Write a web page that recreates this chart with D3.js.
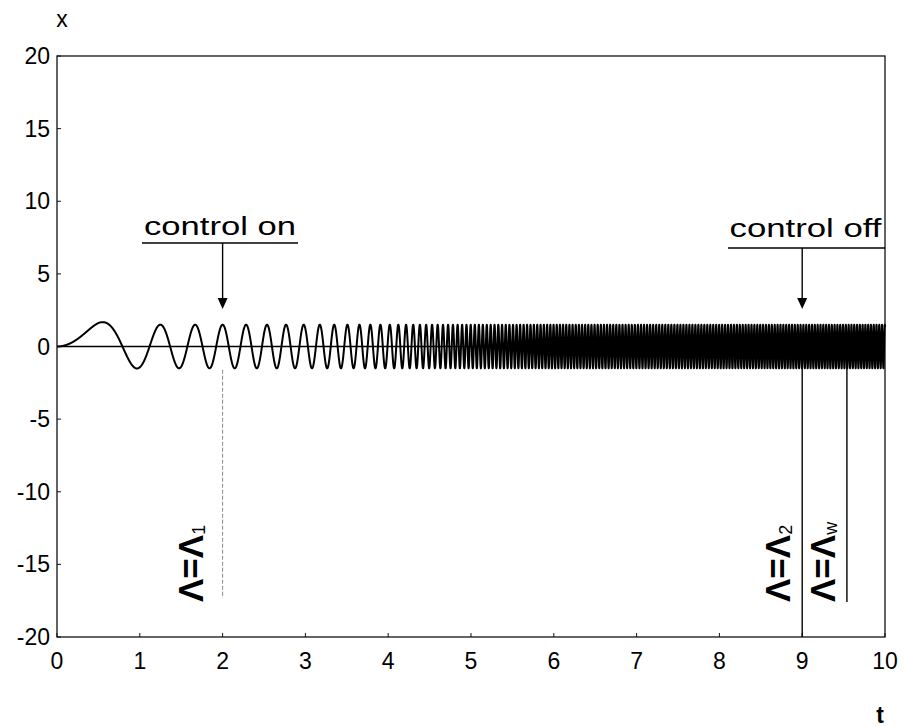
<!DOCTYPE html>
<html>
<head>
<meta charset="utf-8">
<script src="https://cdn.jsdelivr.net/npm/d3@7"></script>
<style>
  body { margin: 0; background: #fff; }
  text { font-family: "Liberation Sans", Arial, sans-serif; fill: #000; }
</style>
</head>
<body>
<svg id="chart" width="904" height="727"></svg>
<script>
// axis ticks
const xTicks = [0, 1, 2, 3, 4, 5, 6, 7, 8, 9, 10];
const yTicks = [-20, -15, -10, -5, 0, 5, 10, 15, 20];

// oscillation rate of x (cycles per unit t) along the record
const rateT = [0, 1, 2, 3, 3.5, 4, 4.5, 5, 6, 8, 10];
const rateV = [0, 1.6, 3.3, 4.9, 6.5, 9, 14, 20, 26, 28, 30];

// amplitude envelope of x
const ampT = [0, 0.5, 1, 2, 3, 5, 10];
const ampV = [1.7, 1.7, 1.5, 1.5, 1.5, 1.5, 1.5];

// control switching events
const eventT = [2, 9];
const eventLabel = ["control on", "control off"];

// parameter markers
const markerT = [2, 9, 9.54];
const markerSub = ["1", "2", "w"];

const svg = d3.select("#chart");
const x = d3.scaleLinear().domain([0, 10]).range([57, 885]);
const y = d3.scaleLinear().domain([-20, 20]).range([637, 56]);

const rate = d3.scaleLinear().domain(rateT).range(rateV);
const amp = d3.scaleLinear().domain(ampT).range(ampV);

// build the trace by accumulating phase from the rate readings
const dt = 0.001;
const trace = [];
let phase = 0;
for (let i = 0; i <= 10000; i++) {
  const t = i * dt;
  trace.push([t, amp(t) * Math.sin(phase)]);
  phase += 2 * Math.PI * rate(t + dt / 2) * dt;
}

// frame
svg.append("rect")
  .attr("x", x(0)).attr("y", y(20))
  .attr("width", x(10) - x(0)).attr("height", y(-20) - y(20))
  .attr("fill", "none").attr("stroke", "#111").attr("stroke-width", 1.3);

// ticks (inward)
svg.append("g").selectAll("line").data(xTicks).join("line")
  .attr("x1", d => x(d)).attr("x2", d => x(d))
  .attr("y1", y(-20)).attr("y2", y(-20) - 4)
  .attr("stroke", "#111").attr("stroke-width", 1);
svg.append("g").selectAll("line").data(yTicks).join("line")
  .attr("x1", x(0)).attr("x2", x(0) + 4)
  .attr("y1", d => y(d)).attr("y2", d => y(d))
  .attr("stroke", "#111").attr("stroke-width", 1);

// tick labels
svg.append("g").selectAll("text").data(xTicks).join("text")
  .attr("x", d => x(d)).attr("y", y(-20) + 32)
  .attr("text-anchor", "middle").attr("font-size", 23)
  .text(d => d);
svg.append("g").selectAll("text").data(yTicks).join("text")
  .attr("x", x(0) - 7).attr("y", d => y(d) + 8)
  .attr("text-anchor", "end").attr("font-size", 23)
  .text(d => d);

// axis names
svg.append("text").attr("x", 62).attr("y", 27)
  .attr("text-anchor", "middle").attr("font-size", 23).text("x");
svg.append("text").attr("x", 880).attr("y", 723)
  .attr("text-anchor", "middle").attr("font-size", 23).attr("font-weight", "bold").text("t");

// zero line
svg.append("line")
  .attr("x1", x(0)).attr("x2", x(10)).attr("y1", y(0)).attr("y2", y(0))
  .attr("stroke", "#000").attr("stroke-width", 1.6);

// trace
svg.append("path").datum(trace)
  .attr("fill", "none").attr("stroke", "#000").attr("stroke-width", 2)
  .attr("stroke-linejoin", "round")
  .attr("d", d3.line().x(d => x(d[0])).y(d => y(d[1])));

// marker lines
const markerBottom = [598, y(-20), 602];
svg.append("g").selectAll("line").data(markerT).join("line")
  .attr("x1", d => x(d)).attr("x2", d => x(d))
  .attr("y1", (d, i) => i === 0 ? y(-1.6) : y(0)).attr("y2", (d, i) => markerBottom[i])
  .attr("stroke", (d, i) => i === 0 ? "#888" : "#000")
  .attr("stroke-width", (d, i) => i === 0 ? 1 : 1.4)
  .attr("stroke-dasharray", (d, i) => i === 0 ? "4 2" : null);

// marker labels (rotated)
const markerLabelX = [203, 790, 835];
markerT.forEach((d, i) => {
  const g = svg.append("text")
    .attr("transform", `translate(${markerLabelX[i]},${602}) rotate(-90)`)
    .attr("font-size", 35).attr("font-weight", "bold");
  g.append("tspan").text("Λ=Λ");
  g.append("tspan").attr("font-size", 18).attr("font-weight", "normal")
    .attr("dy", 2).text(markerSub[i]);
});

// control annotations
const underline = [[142, 298, 243], [728, 885, 248]];
const labelBase = [235, 237];
eventT.forEach((d, i) => {
  const [ux1, ux2, uy] = underline[i];
  svg.append("text")
    .attr("x", (ux1 + ux2) / 2 + (i === 1 ? -1 : 0)).attr("y", labelBase[i])
    .attr("text-anchor", "middle").attr("font-size", 26)
    .attr("textLength", 152).attr("lengthAdjust", "spacingAndGlyphs")
    .text(eventLabel[i]);
  svg.append("line").attr("x1", ux1).attr("x2", ux2).attr("y1", uy).attr("y2", uy)
    .attr("stroke", "#000").attr("stroke-width", 1.5);
  const ax = x(d);
  svg.append("line").attr("x1", ax).attr("x2", ax).attr("y1", uy).attr("y2", 300)
    .attr("stroke", "#000").attr("stroke-width", 1.4);
  svg.append("path")
    .attr("d", `M${ax - 5},${298} L${ax + 5},${298} L${ax},${309} Z`)
    .attr("fill", "#000");
});
</script>
</body>
</html>
